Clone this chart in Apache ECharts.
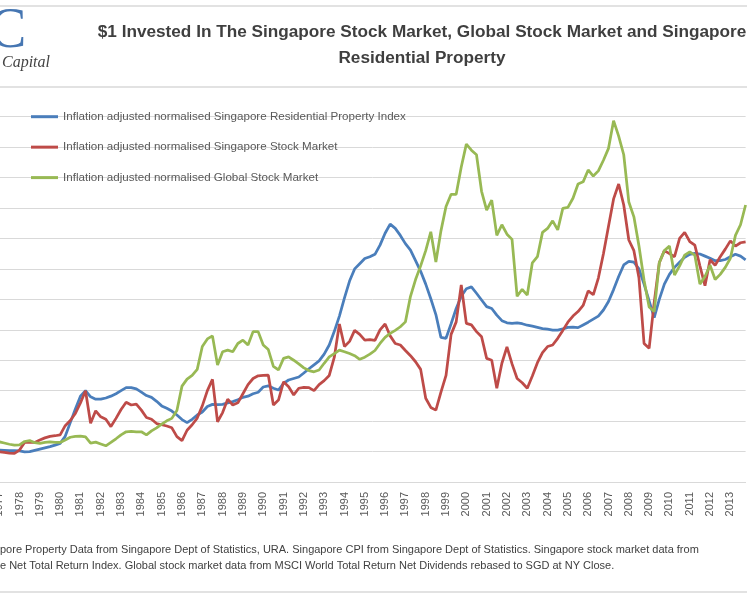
<!DOCTYPE html>
<html>
<head>
<meta charset="utf-8">
<script src="https://cdn.jsdelivr.net/npm/echarts@6/dist/echarts.min.js"></script>
<style>
html,body{margin:0;padding:0;background:#ffffff;}
#chart{width:747px;height:598px;}
</style>
</head>
<body>
<div id="chart"></div>
<script>
// ---- data (quarterly, 1977 Q1 .. 2013 Q4) ----
const years = [1977,1978,1979,1980,1981,1982,1983,1984,1985,1986,1987,1988,1989,1990,1991,1992,1993,1994,1995,1996,1997,1998,1999,2000,2001,2002,2003,2004,2005,2006,2007,2008,2009,2010,2011,2012,2013];
const quarterNames = ['Q1','Q2','Q3','Q4'];

const propertyIndex = [
  1.05,1.04,1.03,1.03, 1.02,0.99,1.00,1.04, 1.08,1.12,1.16,1.21, 1.27,1.50,1.95,2.40,
  2.82,3.00,2.80,2.72, 2.72,2.76,2.82,2.90, 3.00,3.10,3.10,3.06, 2.95,2.84,2.78,2.65,
  2.50,2.42,2.33,2.20, 2.05,1.95,2.06,2.20, 2.30,2.48,2.55,2.54, 2.55,2.60,2.64,2.70,
  2.78,2.82,2.90,2.95, 3.12,3.16,3.08,3.02, 3.24,3.35,3.40,3.45, 3.58,3.72,3.85,3.98,
  4.20,4.50,4.95,5.45, 6.05,6.60,7.00,7.17, 7.34,7.40,7.48,7.78, 8.17,8.47,8.33,8.10,
  7.83,7.62,7.27,6.92, 6.50,6.02,5.50,4.75, 4.72,5.20,5.70,6.10, 6.35,6.41,6.20,5.98,
  5.76,5.70,5.48,5.30, 5.23,5.21,5.23,5.20, 5.15,5.12,5.08,5.04, 5.02,4.99,4.99,5.03,
  5.08,5.09,5.07,5.16, 5.25,5.35,5.45,5.65, 5.93,6.32,6.75,7.13, 7.25,7.22,7.00,6.50,
  5.95,5.40,6.00,6.50, 6.82,7.05,7.22,7.38, 7.48,7.51,7.49,7.42, 7.35,7.27,7.27,7.31,
  7.40,7.48,7.42,7.30
];
const sgStock = [
  0.99,0.97,0.95,0.94, 1.05,1.30,1.31,1.30, 1.38,1.45,1.50,1.52, 1.55,1.85,2.02,2.25,
  2.60,3.00,1.93,2.34, 2.14,2.06,1.82,2.09, 2.38,2.62,2.53,2.56, 2.36,2.12,2.06,1.92,
  1.88,1.84,1.78,1.49, 1.36,1.70,1.88,2.10, 2.50,3.00,3.37,1.98, 2.28,2.72,2.53,2.60,
  2.90,3.20,3.40,3.49, 3.50,3.51,2.53,2.69, 3.29,3.13,2.86,3.08, 3.11,3.10,3.00,3.20,
  3.33,3.50,4.10,5.19, 4.45,4.62,4.98,4.85, 4.66,4.68,4.65,5.00, 5.19,4.80,4.55,4.50,
  4.32,4.15,3.95,3.70, 2.75,2.45,2.36,2.95, 3.50,4.85,5.26,6.47, 5.21,5.16,4.94,4.77,
  4.06,4.00,3.08,3.90, 4.44,3.88,3.40,3.26, 3.08,3.48,3.92,4.25, 4.45,4.50,4.72,4.98,
  5.25,5.45,5.60,5.80, 6.28,6.15,6.70,7.50, 8.40,9.30,9.79,9.10, 7.95,7.60,6.70,4.55,
  4.39,5.90,7.20,7.60, 7.50,7.40,8.00,8.20, 7.90,7.78,7.10,6.45, 7.30,7.12,7.40,7.65,
  7.92,7.75,7.86,7.89
];
const globalStock = [
  1.32,1.28,1.24,1.21, 1.22,1.33,1.36,1.29, 1.27,1.30,1.32,1.30, 1.30,1.38,1.47,1.50,
  1.51,1.48,1.28,1.31, 1.25,1.19,1.30,1.42, 1.55,1.65,1.66,1.65, 1.65,1.55,1.68,1.78,
  1.90,2.01,2.09,2.35, 3.15,3.38,3.50,3.70, 4.45,4.70,4.80,3.84, 4.28,4.33,4.28,4.55,
  4.66,4.50,4.94,4.94, 4.50,4.35,3.80,3.68, 4.06,4.11,4.00,3.88, 3.75,3.66,3.62,3.68,
  3.90,4.11,4.22,4.33, 4.28,4.22,4.15,4.03, 4.10,4.20,4.32,4.55, 4.75,4.88,4.98,5.10,
  5.26,6.10,6.65,7.10, 7.60,8.22,7.23,8.25, 9.05,9.45,9.45,10.35, 11.10,10.90,10.75,9.55,
  8.93,9.26,8.10,8.45, 8.14,7.97,6.10,6.33, 6.14,7.20,7.40,8.20, 8.33,8.58,8.28,8.99,
  9.02,9.32,9.79,9.86, 10.25,10.05,10.22,10.57, 10.96,11.87,11.36,10.75, 9.20,8.71,7.75,6.63,
  5.75,5.60,7.20,7.60, 7.75,6.80,7.10,7.45, 7.56,7.45,6.50,6.75, 7.12,6.65,6.82,7.05,
  7.35,8.10,8.45,9.10
];
const seriesNames = [
  'Inflation adjusted normalised Singapore Residential Property Index',
  'Inflation adjusted normalised Singapore Stock Market',
  'Inflation adjusted normalised Global Stock Market'
];
const titleLines = ['$1 Invested In The Singapore Stock Market, Global Stock Market and Singapore', 'Residential Property'];
const footerLines = [
  'pore Property Data from Singapore Dept of Statistics, URA. Singapore CPI from Singapore Dept of Statistics. Singapore stock market data from',
  'e Net Total Return Index. Global stock market data from MSCI World Total Return Net Dividends rebased to SGD at NY Close.'
];

// ---- build ----
const categories = [];
years.forEach(y => quarterNames.forEach(q => categories.push(y + ' ' + q)));

const SANS = '"Liberation Sans", Arial, sans-serif';
const frameColor = '#d9d9d9';

const chart = echarts.init(document.getElementById('chart'), null, {renderer: 'canvas'});
chart.setOption({
  animation: false,
  backgroundColor: '#ffffff',
  grid: {left: -0.8, right: 1.4, top: 116.7, bottom: 116, containLabel: false, outerBoundsMode: 'none'},
  legend: {
    orient: 'vertical', left: 31, top: 109.7, padding: 0,
    itemWidth: 27, itemHeight: 14, itemGap: 16.45,
    icon: 'path://M0,0L27,0L27,3L0,3Z',
    selectedMode: false,
    textStyle: {color: '#595959', fontSize: 11.6, fontFamily: SANS, lineHeight: 14},
    data: seriesNames
  },
  xAxis: {
    type: 'category', data: categories, boundaryGap: false,
    axisLine: {lineStyle: {color: frameColor, width: 1}},
    axisTick: {show: false},
    splitLine: {show: false},
    axisLabel: {
      interval: (i) => i % 4 === 0,
      formatter: (v) => v.slice(0, 4),
      rotate: 90, margin: 10,
      color: '#595959', fontSize: 11, fontFamily: SANS
    }
  },
  yAxis: {
    type: 'value', min: 0, max: 12, interval: 1,
    axisLabel: {show: false}, axisLine: {show: false}, axisTick: {show: false},
    splitLine: {lineStyle: {color: frameColor, width: 1}}
  },
  series: [
    {name: seriesNames[0], type: 'line', data: propertyIndex, symbol: 'none', color: '#4a7ebb', lineStyle: {width: 2.75, color: '#4a7ebb'}},
    {name: seriesNames[1], type: 'line', data: sgStock, symbol: 'none', color: '#be4b48', lineStyle: {width: 2.75, color: '#be4b48'}},
    {name: seriesNames[2], type: 'line', data: globalStock, symbol: 'none', color: '#98b954', lineStyle: {width: 2.75, color: '#98b954'}}
  ],
  graphic: [
    {type: 'line', shape: {x1: 0, y1: 6, x2: 747, y2: 6}, style: {stroke: frameColor, lineWidth: 1.5}},
    {type: 'line', shape: {x1: 0, y1: 87, x2: 747, y2: 87}, style: {stroke: frameColor, lineWidth: 1.5}},
    {type: 'line', shape: {x1: 0, y1: 592, x2: 747, y2: 592}, style: {stroke: frameColor, lineWidth: 1.5}},
    {type: 'text', x: -11, y: 32, style: {text: 'C', font: '56px "Liberation Serif", serif', fill: '#4676b2', textVerticalAlign: 'middle', verticalAlign: 'middle'}},
    {type: 'text', x: 2, y: 63, style: {text: 'Capital', font: 'italic 16px "Liberation Serif", serif', fill: '#444444', textVerticalAlign: 'middle', verticalAlign: 'middle'}},
    {type: 'text', x: 422, y: 32, style: {text: titleLines[0], font: 'bold 17.2px ' + SANS, fill: '#3f3f3f', textAlign: 'center', align: 'center', textVerticalAlign: 'middle', verticalAlign: 'middle'}},
    {type: 'text', x: 422, y: 58, style: {text: titleLines[1], font: 'bold 17.2px ' + SANS, fill: '#3f3f3f', textAlign: 'center', align: 'center', textVerticalAlign: 'middle', verticalAlign: 'middle'}},
    {type: 'text', x: 0, y: 550, style: {text: footerLines[0], font: '11px ' + SANS, fill: '#404040', textVerticalAlign: 'middle', verticalAlign: 'middle'}},
    {type: 'text', x: 0, y: 566, style: {text: footerLines[1], font: '11px ' + SANS, fill: '#404040', textVerticalAlign: 'middle', verticalAlign: 'middle'}}
  ]
});
</script>
</body>
</html>
